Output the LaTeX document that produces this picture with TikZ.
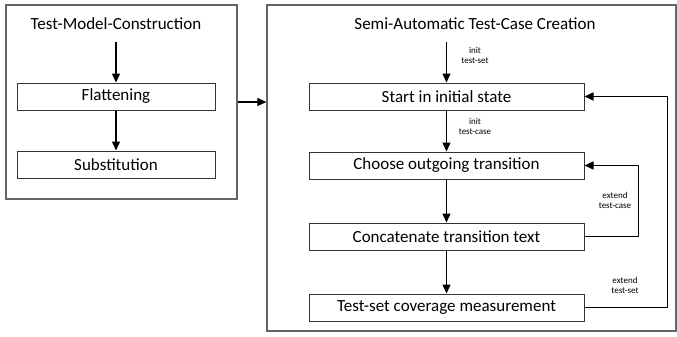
\documentclass[tikz,border=0pt]{standalone}
\usepackage{fontspec}
\setmainfont{Carlito}
\usetikzlibrary{positioning,arrows.meta}

\begin{document}
\begin{tikzpicture}[x=1pt, y=1pt,
    frame/.style={rectangle, draw=black!60, line width=1.2pt},
    stage/.style={rectangle, draw=black!80, line width=1pt, minimum height=27pt, inner sep=0pt, font=\fontsize{17}{19}\selectfont},
    note/.style={align=center, font=\fontsize{9}{10}\selectfont, inner sep=0pt},
    flow/.style={-{Triangle[length=9pt,width=8pt]}, line width=1.4pt}]
    \useasboundingbox (0,0) rectangle (677,-337);
    % outer boxes
    \node[frame, minimum width=231pt, minimum height=194pt] (model) at (121.5,-102) {};
    \node[frame, minimum width=409pt, minimum height=326pt] (creation) at (471.5,-168) {};
    \node[font=\fontsize{17}{19}\selectfont] (modeltitle) at (116,-24) {Test-Model-Construction};
    \node[font=\fontsize{17}{19}\selectfont] (creationtitle) at (475,-24) {Semi-Automatic Test-Case Creation};
    % left column
    \node[stage, minimum width=198pt] (flat) at (116,-96.5) {Flattening};
    \node[stage, minimum width=198pt, below=40pt of flat] (subst) {Substitution};
    % right column
    \node[stage, minimum width=275pt] (start) at (446.5,-96.5) {Start in initial state};
    \node[stage, minimum width=275pt, below=41pt of start] (choose) {Choose outgoing transition};
    \node[stage, minimum width=275pt, below=43pt of choose] (concat) {Concatenate transition text};
    \node[stage, minimum width=275pt, below=43pt of concat] (cover) {Test-set coverage measurement};
    \coordinate (flatin) at (116,-42);
    \coordinate (startin) at (446.5,-42);
    % labels
    \node[note] (initset) at (475,-55) {init\\test-set};
    \node[note] (initcase) at (475,-126) {init\\test-case};
    \node[note] (extcase) at (615,-200) {extend\\test-case};
    \node[note] (extset) at (625,-285) {extend\\test-set};
    % connectors
    \draw[flow] (flatin) -- (flat);
    \draw[flow] (flat) -- (subst);
    \draw[flow] (model.east) -- (model.east -| creation.west);
    \draw[flow] (startin) -- (start);
    \draw[flow] (start) -- (choose);
    \draw[flow] (choose) -- (concat);
    \draw[flow] (concat) -- (cover);
    \draw[flow] (concat.east) -- ++(54,0) |- (choose.east);
    \draw[flow] (cover.east) -- ++(83,0) |- (start.east);
\end{tikzpicture}
\end{document}
